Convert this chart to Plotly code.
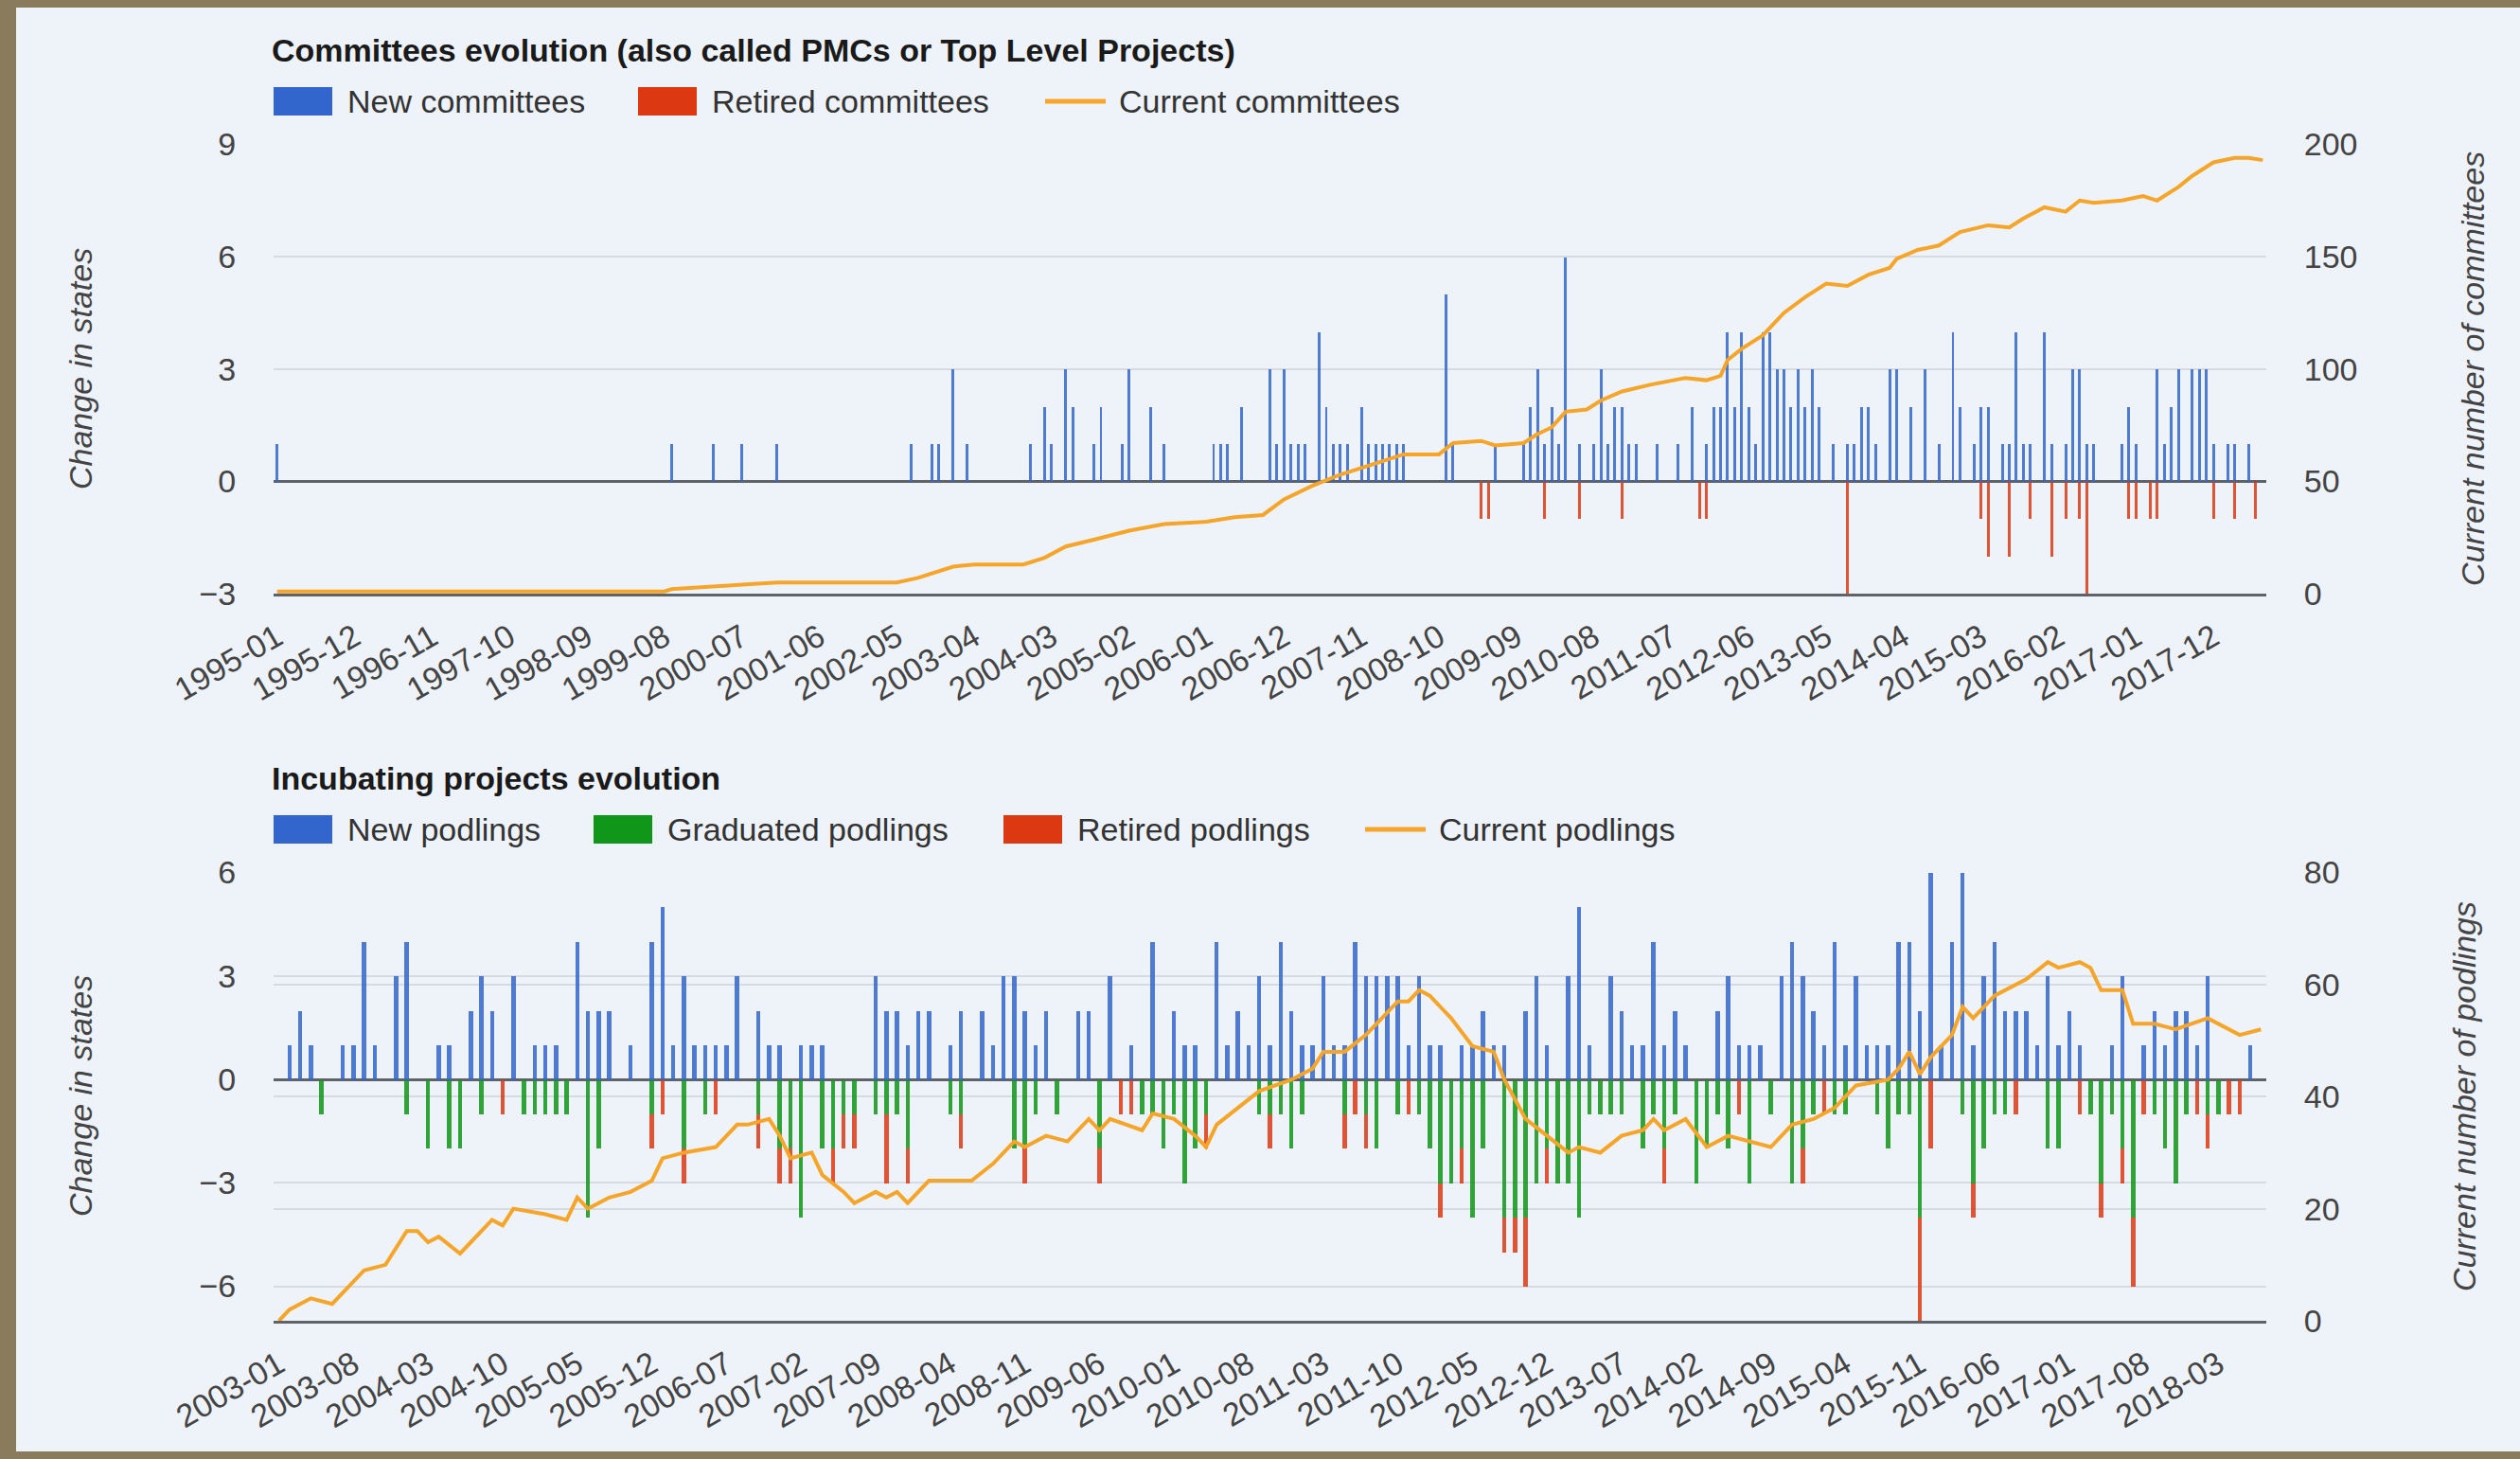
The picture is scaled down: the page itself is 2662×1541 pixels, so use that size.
import plotly.graph_objects as go

# ---------------- categories ----------------
MONTHS_TOP = [f"{y}-{m:02d}" for y in range(1995, 2019) for m in range(1, 13)][:283]   # 1995-01 .. 2018-07
MONTHS_BOT = [f"{y}-{m:02d}" for y in range(2003, 2019) for m in range(1, 13)][:187]   # 2003-01 .. 2018-07
TICKS_TOP = ["1995-01", "1995-12", "1996-11", "1997-10", "1998-09", "1999-08", "2000-07", "2001-06",
             "2002-05", "2003-04", "2004-03", "2005-02", "2006-01", "2006-12", "2007-11", "2008-10",
             "2009-09", "2010-08", "2011-07", "2012-06", "2013-05", "2014-04", "2015-03", "2016-02",
             "2017-01", "2017-12"]
TICKS_BOT = ["2003-01", "2003-08", "2004-03", "2004-10", "2005-05", "2005-12", "2006-07", "2007-02",
             "2007-09", "2008-04", "2008-11", "2009-06", "2010-01", "2010-08", "2011-03", "2011-10",
             "2012-05", "2012-12", "2013-07", "2014-02", "2014-09", "2015-04", "2015-11", "2016-06",
             "2017-01", "2017-08", "2018-03"]

# ---------------- committees (monthly, Jan..Dec per row) ----------------
NEW_COMMITTEES = [
    1, 0, 0, 0, 0, 0, 0, 0, 0, 0, 0, 0,   # 1995
    0, 0, 0, 0, 0, 0, 0, 0, 0, 0, 0, 0,   # 1996
    0, 0, 0, 0, 0, 0, 0, 0, 0, 0, 0, 0,   # 1997
    0, 0, 0, 0, 0, 0, 0, 0, 0, 0, 0, 0,   # 1998
    0, 0, 0, 0, 0, 0, 0, 0, 1, 0, 0, 0,   # 1999
    0, 0, 1, 0, 0, 0, 1, 0, 0, 0, 0, 1,   # 2000
    0, 0, 0, 0, 0, 0, 0, 0, 0, 0, 0, 0,   # 2001
    0, 0, 0, 0, 0, 0, 1, 0, 0, 1, 1, 0,   # 2002
    3, 0, 1, 0, 0, 0, 0, 0, 0, 0, 0, 1,   # 2003
    0, 2, 1, 0, 3, 2, 0, 0, 1, 2, 0, 0,   # 2004
    1, 3, 0, 0, 2, 0, 1, 0, 0, 0, 0, 0,   # 2005
    0, 1, 1, 1, 0, 2, 0, 0, 0, 3, 1, 3,   # 2006
    1, 1, 1, 0, 4, 2, 1, 1, 1, 0, 2, 1,   # 2007
    1, 1, 1, 1, 1, 0, 0, 0, 0, 0, 5, 1,   # 2008
    0, 0, 0, 0, 0, 1, 0, 0, 0, 1, 2, 3,   # 2009
    1, 2, 1, 6, 0, 1, 0, 1, 3, 1, 2, 2,   # 2010
    1, 1, 0, 0, 1, 0, 0, 1, 0, 2, 0, 1,   # 2011
    2, 2, 4, 2, 4, 2, 1, 4, 4, 3, 3, 2,   # 2012
    3, 2, 3, 2, 0, 1, 0, 1, 1, 2, 2, 1,   # 2013
    0, 3, 3, 0, 2, 0, 3, 0, 1, 0, 4, 2,   # 2014
    0, 1, 2, 2, 0, 1, 1, 4, 1, 1, 0, 4,   # 2015
    1, 0, 1, 3, 3, 1, 1, 0, 0, 0, 1, 2,   # 2016
    1, 0, 0, 3, 1, 2, 3, 0, 3, 3, 3, 1,   # 2017
    0, 1, 1, 0, 1, 0, 0,                  # 2018
]
RETIRED_COMMITTEES = [
    0, 0, 0, 0, 0, 0, 0, 0, 0, 0, 0, 0,   # 1995
    0, 0, 0, 0, 0, 0, 0, 0, 0, 0, 0, 0,   # 1996
    0, 0, 0, 0, 0, 0, 0, 0, 0, 0, 0, 0,   # 1997
    0, 0, 0, 0, 0, 0, 0, 0, 0, 0, 0, 0,   # 1998
    0, 0, 0, 0, 0, 0, 0, 0, 0, 0, 0, 0,   # 1999
    0, 0, 0, 0, 0, 0, 0, 0, 0, 0, 0, 0,   # 2000
    0, 0, 0, 0, 0, 0, 0, 0, 0, 0, 0, 0,   # 2001
    0, 0, 0, 0, 0, 0, 0, 0, 0, 0, 0, 0,   # 2002
    0, 0, 0, 0, 0, 0, 0, 0, 0, 0, 0, 0,   # 2003
    0, 0, 0, 0, 0, 0, 0, 0, 0, 0, 0, 0,   # 2004
    0, 0, 0, 0, 0, 0, 0, 0, 0, 0, 0, 0,   # 2005
    0, 0, 0, 0, 0, 0, 0, 0, 0, 0, 0, 0,   # 2006
    0, 0, 0, 0, 0, 0, 0, 0, 0, 0, 0, 0,   # 2007
    0, 0, 0, 0, 0, 0, 0, 0, 0, 0, 0, 0,   # 2008
    0, 0, 0, -1, -1, 0, 0, 0, 0, 0, 0, 0, # 2009
    -1, 0, 0, 0, 0, -1, 0, 0, 0, 0, 0, -1, # 2010
    0, 0, 0, 0, 0, 0, 0, 0, 0, 0, -1, -1, # 2011
    0, 0, 0, 0, 0, 0, 0, 0, 0, 0, 0, 0,   # 2012
    0, 0, 0, 0, 0, 0, 0, -3, 0, 0, 0, 0,  # 2013
    0, 0, 0, 0, 0, 0, 0, 0, 0, 0, 0, 0,   # 2014
    0, 0, -1, -2, 0, 0, -2, 0, 0, -1, 0, 0, # 2015
    -2, 0, -1, 0, -1, -3, 0, 0, 0, 0, 0, -1, # 2016
    -1, 0, -1, -1, 0, 0, 0, 0, 0, 0, 0, -1, # 2017
    0, 0, -1, 0, 0, -1, 0,                # 2018
]
CURRENT_COMMITTEES_MONTHS = [
    "1995-01", "1999-08", "1999-09", "2000-03", "2000-07", "2000-12", "2002-05", "2002-08",
    "2003-01", "2003-04", "2003-11", "2004-02", "2004-05", "2004-09", "2005-02", "2005-07",
    "2006-01", "2006-05", "2006-09", "2006-12", "2007-04", "2007-08", "2008-01", "2008-05",
    "2008-10", "2008-12", "2009-04", "2009-06", "2009-10", "2009-12", "2010-02", "2010-04",
    "2010-07", "2010-09", "2010-12", "2011-04", "2011-09", "2011-12", "2012-02", "2012-03",
    "2012-05", "2012-08", "2012-11", "2013-02", "2013-05", "2013-08", "2013-11", "2014-02",
    "2014-03", "2014-06", "2014-09", "2014-12", "2015-04", "2015-07", "2015-09", "2015-12",
    "2016-03", "2016-05", "2016-07", "2016-11", "2017-02", "2017-04", "2017-07", "2017-09",
    "2017-12", "2018-03", "2018-05", "2018-07"]
CURRENT_COMMITTEES = [
    1, 1, 2, 3, 4, 5, 5, 7,
    12, 13, 13, 16, 21, 24, 28, 31,
    32, 34, 35, 42, 48, 53, 58, 62,
    62, 67, 68, 66, 67, 71, 74, 81,
    82, 86, 90, 93, 96, 95, 97, 104,
    109, 115, 125, 132, 138, 137, 142, 145,
    149, 153, 155, 161, 164, 163, 167, 172,
    170, 175, 174, 175, 177, 175, 181, 186,
    192, 194, 194, 193]

# ---------------- podlings (monthly, Jan..Dec per row) ----------------
NEW_PODLINGS = [
    0, 1, 2, 1, 0, 0, 1, 1, 4, 1, 0, 3,   # 2003
    4, 0, 0, 1, 1, 0, 2, 3, 2, 0, 3, 0,   # 2004
    1, 1, 1, 0, 4, 2, 2, 2, 0, 1, 0, 4,   # 2005
    5, 1, 3, 1, 1, 1, 1, 3, 0, 2, 1, 1,   # 2006
    0, 1, 1, 1, 0, 0, 0, 0, 3, 2, 2, 1,   # 2007
    2, 2, 0, 1, 2, 0, 2, 1, 3, 3, 2, 1,   # 2008
    2, 0, 0, 2, 2, 0, 3, 0, 1, 0, 4, 0,   # 2009
    2, 1, 1, 0, 4, 1, 2, 1, 3, 1, 4, 2,   # 2010
    1, 1, 3, 1, 1, 4, 3, 3, 3, 3, 1, 3,   # 2011
    1, 1, 0, 1, 1, 2, 1, 1, 0, 2, 3, 1,   # 2012
    0, 3, 5, 1, 0, 3, 2, 1, 1, 4, 1, 2,   # 2013
    1, 0, 0, 2, 3, 1, 1, 1, 0, 3, 4, 3,   # 2014
    2, 1, 4, 1, 3, 1, 1, 1, 4, 4, 2, 6,   # 2015
    1, 4, 6, 1, 3, 4, 2, 2, 2, 1, 3, 1,   # 2016
    2, 1, 0, 0, 1, 3, 0, 1, 2, 1, 2, 2,   # 2017
    1, 3, 0, 0, 0, 1, 0,                  # 2018
]
GRADUATED_PODLINGS = [
    0, 0, 0, 0, -1, 0, 0, 0, 0, 0, 0, 0,          # 2003
    -1, 0, -2, 0, -2, -2, 0, -1, 0, 0, 0, -1,     # 2004
    -1, -1, -1, -1, 0, -4, -2, 0, 0, 0, 0, -1,    # 2005
    0, 0, -2, 0, -1, 0, 0, 0, 0, -1, 0, -2,       # 2006
    -2, -4, 0, -2, -2, -1, -1, 0, -1, -1, -1, -2, # 2007
    0, 0, 0, -1, -1, 0, 0, 0, 0, -2, -2, -1,      # 2008
    0, -1, 0, 0, 0, -2, 0, 0, 0, -1, -1, -2,      # 2009
    -1, -3, -2, -1, 0, 0, 0, 0, -1, -1, -1, -2,   # 2010
    -1, 0, 0, 0, -1, 0, -1, -2, 0, -1, 0, -1,     # 2011
    -2, -3, -3, -2, -4, -2, 0, -4, -4, -4, -3, -2, # 2012
    -3, -3, -4, -1, -1, -1, -1, 0, -2, -1, -2, -1, # 2013
    0, -3, -2, -1, -2, 0, -3, 0, -1, 0, -3, -2,   # 2014
    -1, 0, -1, -1, 0, 0, -1, -2, -1, -1, -4, 0,   # 2015
    0, 0, -1, -3, -2, -1, -1, 0, 0, 0, -2, -2,    # 2016
    0, 0, -1, -3, -1, -2, -4, 0, -1, -2, -3, -1,  # 2017
    0, -1, -1, 0, 0, 0, 0,                        # 2018
]
RETIRED_PODLINGS = [
    0, 0, 0, 0, 0, 0, 0, 0, 0, 0, 0, 0,           # 2003
    0, 0, 0, 0, 0, 0, 0, 0, 0, -1, 0, 0,          # 2004
    0, 0, 0, 0, 0, 0, 0, 0, 0, 0, 0, -1,          # 2005
    -1, 0, -1, 0, 0, -1, 0, 0, 0, -1, 0, -1,      # 2006
    -1, 0, 0, 0, -1, -1, -1, 0, 0, -2, 0, -1,     # 2007
    0, 0, 0, 0, -1, 0, 0, 0, 0, 0, -1, 0,         # 2008
    0, 0, 0, 0, 0, -1, 0, -1, -1, 0, 0, 0,        # 2009
    0, 0, 0, -1, 0, 0, 0, 0, 0, -1, 0, 0,         # 2010
    0, 0, 0, 0, -1, -1, -1, 0, 0, 0, -1, 0,       # 2011
    0, -1, 0, -1, 0, 0, 0, -1, -1, -2, 0, -1,     # 2012
    0, 0, 0, 0, 0, 0, 0, 0, 0, 0, -1, 0,          # 2013
    0, 0, 0, 0, 0, -1, 0, 0, 0, 0, 0, -1,         # 2014
    0, -1, 0, 0, 0, 0, 0, 0, 0, 0, -3, -2,        # 2015
    0, 0, 0, -1, 0, 0, 0, -1, 0, 0, 0, 0,         # 2016
    0, -1, 0, -1, 0, -1, -2, -1, 0, 0, 0, 0,      # 2017
    -1, -1, 0, -1, -1, 0, 0,                      # 2018
]
CURRENT_PODLINGS_MONTHS = [
    "2003-01", "2003-02", "2003-04", "2003-06", "2003-07", "2003-09", "2003-11", "2004-01",
    "2004-02", "2004-03", "2004-04", "2004-06", "2004-09", "2004-10", "2004-11", "2005-02",
    "2005-04", "2005-05", "2005-06", "2005-08", "2005-10", "2005-12", "2006-01", "2006-03",
    "2006-06", "2006-07", "2006-08", "2006-09", "2006-11", "2006-12", "2007-01", "2007-03",
    "2007-04", "2007-06", "2007-07", "2007-09", "2007-10", "2007-11", "2007-12", "2008-02",
    "2008-06", "2008-08", "2008-10", "2008-11", "2009-01", "2009-03", "2009-05", "2009-06",
    "2009-07", "2009-10", "2009-11", "2010-01", "2010-03", "2010-04", "2010-05", "2010-09",
    "2010-12", "2011-02", "2011-03", "2011-05", "2011-07", "2011-08", "2011-10", "2011-11",
    "2011-12", "2012-01", "2012-03", "2012-05", "2012-07", "2012-08", "2012-10", "2012-12",
    "2013-02", "2013-03", "2013-05", "2013-07", "2013-09", "2013-10", "2013-11", "2014-01",
    "2014-03", "2014-05", "2014-07", "2014-09", "2014-11", "2015-01", "2015-03", "2015-05",
    "2015-08", "2015-09", "2015-10", "2015-11", "2015-12", "2016-02", "2016-03", "2016-04",
    "2016-06", "2016-09", "2016-11", "2016-12", "2017-02", "2017-03", "2017-04", "2017-06",
    "2017-07", "2017-09", "2017-11", "2018-02", "2018-05", "2018-07"]
CURRENT_PODLINGS = [
    0, 2, 4, 3, 5, 9, 10, 16,
    16, 14, 15, 12, 18, 17, 20, 19,
    18, 22, 20, 22, 23, 25, 29, 30,
    31, 33, 35, 35, 36, 33, 29, 30,
    26, 23, 21, 23, 22, 23, 21, 25,
    25, 28, 32, 31, 33, 32, 36, 34,
    36, 34, 37, 36, 33, 31, 35, 41,
    43, 45, 48, 48, 51, 53, 57, 57,
    59, 58, 54, 49, 48, 43, 36, 33,
    30, 31, 30, 33, 34, 36, 34, 36,
    31, 33, 32, 31, 35, 36, 38, 42,
    43, 45, 48, 44, 47, 51, 56, 54,
    58, 61, 64, 63, 64, 63, 59, 59,
    53, 53, 52, 54, 51, 52]

# ---------------- styling ----------------
W, H = 2662, 1541
BLUE, RED, GREEN, ORANGE = "#3366cc", "#dc3912", "#109618", "#f5a52a"
PANEL = "#eef2f9"
FRAME = "#8a7b5c"
GRID = "#d6dae2"
AXIS = "#5f6368"
TXT = "#444444"
FONT = "Liberation Sans, Arial, sans-serif"
TICK_SIZE = 34


def px(x):
    return x / W


def py(y):
    return 1 - y / H


PL, PR = 289, 2394
TOP_T, TOP_B = 152.5, 627
BOT_T, BOT_B = 921.5, 1395

fig = go.Figure()

# top chart
fig.add_trace(go.Bar(x=MONTHS_TOP, y=NEW_COMMITTEES, name="New committees", marker_color=BLUE,
                     marker_line_width=0, width=0.4, xaxis="x", yaxis="y", opacity=0.85))
fig.add_trace(go.Bar(x=MONTHS_TOP, y=RETIRED_COMMITTEES, name="Retired committees", marker_color=RED,
                     marker_line_width=0, width=0.4, xaxis="x", yaxis="y", opacity=0.85))
fig.add_trace(go.Scatter(x=CURRENT_COMMITTEES_MONTHS, y=CURRENT_COMMITTEES, name="Current committees",
                         mode="lines", line=dict(color=ORANGE, width=4), xaxis="x", yaxis="y2"))
# bottom chart
fig.add_trace(go.Bar(x=MONTHS_BOT, y=NEW_PODLINGS, name="New podlings", marker_color=BLUE,
                     marker_line_width=0, width=0.4, xaxis="x2", yaxis="y3", opacity=0.85))
fig.add_trace(go.Bar(x=MONTHS_BOT, y=GRADUATED_PODLINGS, name="Graduated podlings", marker_color=GREEN,
                     marker_line_width=0, width=0.4, xaxis="x2", yaxis="y3", opacity=0.85))
fig.add_trace(go.Bar(x=MONTHS_BOT, y=RETIRED_PODLINGS, name="Retired podlings", marker_color=RED,
                     marker_line_width=0, width=0.4, xaxis="x2", yaxis="y3", opacity=0.85))
fig.add_trace(go.Scatter(x=CURRENT_PODLINGS_MONTHS, y=CURRENT_PODLINGS, name="Current podlings",
                         mode="lines", line=dict(color=ORANGE, width=4), xaxis="x2", yaxis="y4"))

xcommon = dict(type="category", automargin=False, showgrid=False, zeroline=False, showline=True,
               linecolor=AXIS, linewidth=3, ticks="outside", ticklen=10,
               tickcolor="rgba(0,0,0,0)", tickangle=-30,
               tickfont=dict(size=TICK_SIZE, color=TXT, family=FONT))
yleft = dict(automargin=False, showgrid=True, gridcolor=GRID, gridwidth=2, zeroline=True,
             zerolinecolor=AXIS, zerolinewidth=3, showline=False, ticks="outside", ticklen=32,
             tickcolor="rgba(0,0,0,0)", tickfont=dict(size=TICK_SIZE, color=TXT, family=FONT))
yright = dict(automargin=False, showgrid=True, gridcolor=GRID, gridwidth=2, zeroline=False,
              showline=False, ticks="outside", ticklen=32, tickcolor="rgba(0,0,0,0)", side="right",
              tickfont=dict(size=TICK_SIZE, color=TXT, family=FONT))

fig.update_layout(
    xaxis=dict(xcommon, domain=[px(PL), px(PR)], anchor="y", categoryorder="array",
               categoryarray=MONTHS_TOP, range=[-0.5, len(MONTHS_TOP) - 0.5],
               tickmode="array", tickvals=TICKS_TOP, ticktext=TICKS_TOP),
    yaxis=dict(yleft, domain=[py(TOP_B), py(TOP_T)], anchor="x", range=[-3, 9],
               tickvals=[-3, 0, 3, 6, 9]),
    yaxis2=dict(yright, overlaying="y", anchor="x", range=[0, 200],
                tickvals=[0, 50, 100, 150, 200]),
    xaxis2=dict(xcommon, domain=[px(PL), px(PR)], anchor="y3", categoryorder="array",
                categoryarray=MONTHS_BOT, range=[-0.5, len(MONTHS_BOT) - 0.5],
                tickmode="array", tickvals=TICKS_BOT, ticktext=TICKS_BOT),
    yaxis3=dict(yleft, domain=[py(BOT_B), py(BOT_T)], anchor="x2", range=[-7, 6],
                tickvals=[-6, -3, 0, 3, 6]),
    yaxis4=dict(yright, overlaying="y3", anchor="x2", range=[0, 80],
                tickvals=[0, 20, 40, 60, 80]),
    barmode="relative",
    bargap=0,
    showlegend=False,
    width=W, height=H,
    margin=dict(l=0, r=0, t=0, b=0, autoexpand=False),
    paper_bgcolor=FRAME,
    plot_bgcolor="rgba(0,0,0,0)",
    font=dict(family=FONT, color=TXT),
)

shapes = [dict(type="rect", xref="paper", yref="paper", x0=px(17), x1=1, y0=py(1533), y1=py(8),
               fillcolor=PANEL, line=dict(width=0), layer="below")]
ann = []

# titles
for text, y in [("Committees evolution (also called PMCs or Top Level Projects)", 53),
                ("Incubating projects evolution", 822)]:
    ann.append(dict(text=f"<b>{text}</b>", xref="paper", yref="paper", x=px(285), y=py(y),
                    xanchor="left", yanchor="middle", showarrow=False,
                    font=dict(size=34, color="#1a1a1a", family=FONT)))


# legends (patches + labels)
def legend_item(kind, color, label, x0, yc):
    if kind == "bar":
        shapes.append(dict(type="rect", xref="paper", yref="paper", x0=px(x0), x1=px(x0 + 62),
                           y0=py(yc + 15), y1=py(yc - 15), fillcolor=color, line=dict(width=0)))
    else:
        shapes.append(dict(type="line", xref="paper", yref="paper", x0=px(x0), x1=px(x0 + 64),
                           y0=py(yc), y1=py(yc), line=dict(color=color, width=5)))
    ann.append(dict(text=label, xref="paper", yref="paper", x=px(x0 + 76), y=py(yc),
                    xanchor="left", yanchor="middle", showarrow=False,
                    font=dict(size=34, color="#333333", family=FONT)))


legend_item("bar", BLUE, "New committees", 289, 107)
legend_item("bar", RED, "Retired committees", 674, 107)
legend_item("line", ORANGE, "Current committees", 1104, 107)
legend_item("bar", BLUE, "New podlings", 289, 876)
legend_item("bar", GREEN, "Graduated podlings", 627, 876)
legend_item("bar", RED, "Retired podlings", 1060, 876)
legend_item("line", ORANGE, "Current podlings", 1442, 876)

# axis titles
for text, x, y in [("Change in states", 85, 390), ("Change in states", 85, 1158),
                   ("Current number of committees", 2612, 390),
                   ("Current number of podlings", 2603, 1158)]:
    ann.append(dict(text=f"<i>{text}</i>", xref="paper", yref="paper", x=px(x), y=py(y),
                    xanchor="center", yanchor="middle", textangle=-90, showarrow=False,
                    font=dict(size=34, color=TXT, family=FONT)))

fig.update_layout(shapes=shapes, annotations=ann)
fig.write_html(
    "out.html",
    config={"displayModeBar": False},
    post_script=("document.documentElement.style.margin='0';"
                 "document.body.style.margin='0';"
                 "document.body.style.overflow='hidden';"
                 f"document.body.style.background='{FRAME}';"),
)
